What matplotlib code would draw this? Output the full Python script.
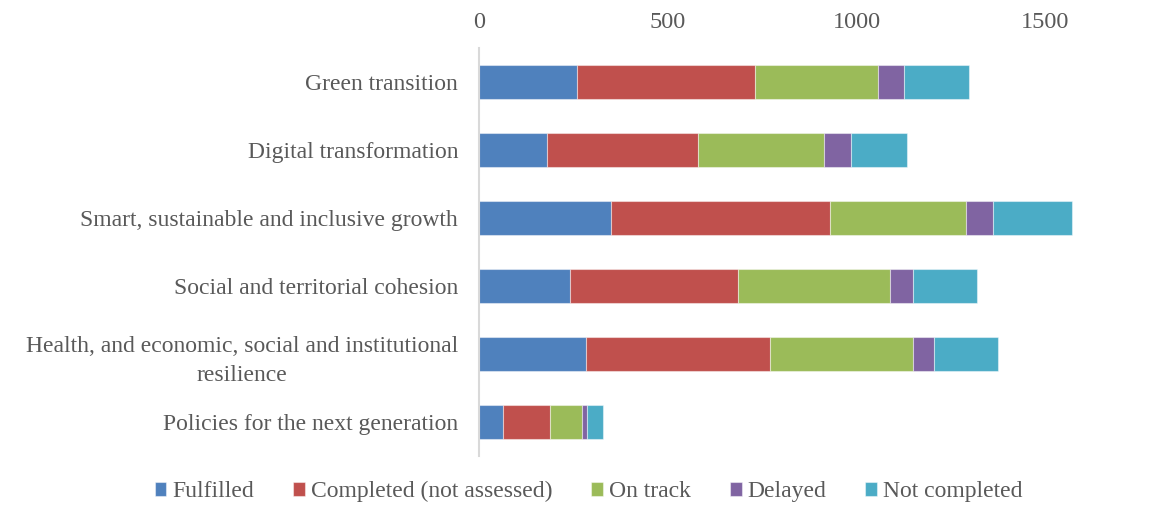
import numpy as np
import matplotlib
matplotlib.use("Agg")
import matplotlib.pyplot as plt

plt.rcParams['font.family'] = ['Liberation Serif', 'DejaVu Serif']

categories = ["Green transition",
              "Digital transformation",
              "Smart, sustainable and inclusive growth",
              "Social and territorial cohesion",
              "Health, and economic, social and institutional\nresilience",
              "Policies for the next generation"]

series_names = ["Fulfilled", "Completed (not assessed)", "On track", "Delayed", "Not completed"]
fulfilled = [260, 180, 351, 242, 283, 63]
completed = [471, 401, 579, 443, 489, 124]
on_track = [327, 334, 360, 405, 379, 87]
delayed = [68, 70, 72, 60, 55, 11]
not_completed = [173, 150, 208, 169, 168, 44]
colors = ["#4F81BD", "#C0504D", "#9BBB59", "#8064A2", "#4BACC6"]

fig = plt.figure(figsize=(11.57, 5.11), dpi=100)
ax = fig.add_axes([0.414, 0.1076, 0.5177, 0.7984])

y = np.arange(len(categories))
left = np.zeros(len(categories))
for name, vals, c in zip(series_names, [fulfilled, completed, on_track, delayed, not_completed], colors):
    ax.barh(y, vals, left=left, height=0.5, color=c, label=name,
            edgecolor=(1, 1, 1, 0.45), linewidth=0.8)
    left += np.array(vals)

ax.set_ylim(5.5, -0.5)
ax.set_xlim(0, 1587)
ax.set_xticks([0, 500, 1000, 1500])
ax.xaxis.tick_top()
ax.tick_params(axis='x', length=0, pad=11, labelsize=17.5, labelcolor='#595959')
ax.tick_params(axis='y', length=0, pad=15, labelsize=17, labelcolor='#595959')
ax.set_yticks(y)
ax.set_yticklabels(categories, multialignment='center', linespacing=1.5)

for s in ['top', 'right', 'bottom']:
    ax.spines[s].set_visible(False)
ax.spines['left'].set_color('#D9D9D9')
ax.spines['left'].set_linewidth(1.5)

leg = fig.legend(loc='center', bbox_to_anchor=(0.5087, 0.038), ncol=5, frameon=False,
                 fontsize=17, handlelength=0.5, handleheight=0.5, handletextpad=0.25,
                 columnspacing=1.65, labelcolor='#595959')

fig.savefig("out.png", dpi=100)
